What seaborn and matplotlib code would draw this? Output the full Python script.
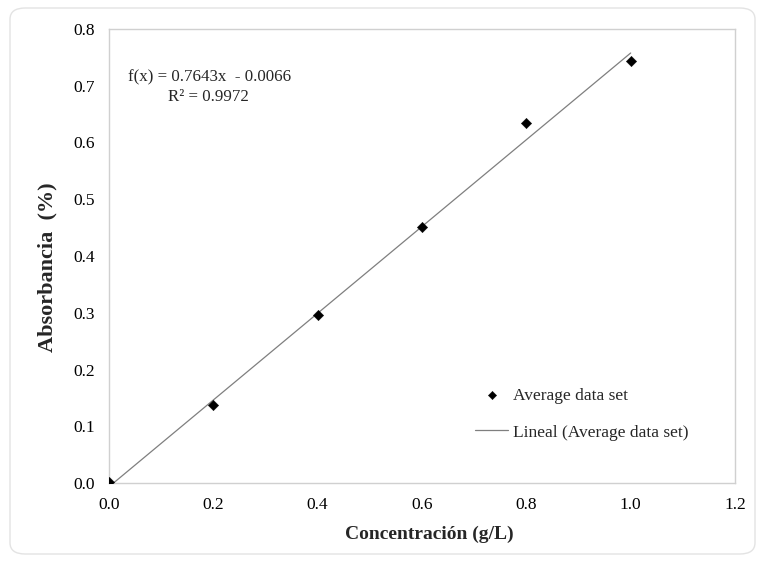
import numpy as np
import pandas as pd
import matplotlib
matplotlib.use("Agg")
import matplotlib.pyplot as plt
import seaborn as sns
from matplotlib.patches import FancyBboxPatch

concentration = [0.0, 0.2, 0.4, 0.6, 0.8, 1.0]
absorbance = [0.001, 0.137, 0.296, 0.451, 0.634, 0.744]
slope = 0.7643
intercept = -0.0066
r2 = 0.9972
x_ticks = [0.0, 0.2, 0.4, 0.6, 0.8, 1.0, 1.2]
y_ticks = [0.0, 0.1, 0.2, 0.3, 0.4, 0.5, 0.6, 0.7, 0.8]

sns.set_theme(style="white")
plt.rcParams['font.family'] = ['Liberation Serif', 'DejaVu Serif']

df = pd.DataFrame({"x": concentration, "y": absorbance})
fit_x = [min(concentration), max(concentration)]
fit = pd.DataFrame({"x": fit_x, "y": [slope * v + intercept for v in fit_x]})

fig = plt.figure(figsize=(7.65, 5.62), dpi=100)
ax = fig.add_axes([109/765, 1 - 483/562, (735-109)/765, (483-29)/562])

border = FancyBboxPatch((10/765, 8/562), (765-20)/765, (562-16)/562,
                        boxstyle="round,pad=0,rounding_size=0.02",
                        transform=fig.transFigure, fill=False,
                        edgecolor="#e3e3e3", linewidth=1.0)
fig.patches.append(border)

sns.lineplot(data=fit, x="x", y="y", ax=ax, color="#7f7f7f", linewidth=0.9,
             label="Lineal (Average data set)", zorder=2)
sns.scatterplot(data=df, x="x", y="y", ax=ax, marker="D", s=28, color="black",
                edgecolor="black", linewidth=0.3, label="Average data set", zorder=3)

ax.set_xlim(0, 1.2)
ax.set_ylim(0, 0.8)
ax.set_xticks(x_ticks)
ax.set_yticks(y_ticks)
ax.set_xticklabels([f"{v:.1f}" for v in x_ticks])
ax.set_yticklabels([f"{v:.1f}" for v in y_ticks])
ax.tick_params(axis="both", direction="out", length=4, width=0.8, color="#d0d0d0",
               labelsize=12.5, labelcolor="black", pad=6)
for s in ax.spines.values():
    s.set_visible(True)
    s.set_color("#d0d0d0")
    s.set_linewidth(1.0)

ax.set_xlabel("Concentración (g/L)", fontsize=14, fontweight="bold")
ax.set_ylabel("Absorbancia  (%)", fontsize=16, fontweight="bold")
ax.xaxis.set_label_coords(0.511, -0.095)
ax.yaxis.set_label_coords(-0.082, 0.476)

ax.text(0.036, 0.715, f"f(x) = {slope}x  - {abs(intercept):.4f}", transform=ax.transData,
        fontsize=12.2, ha="left", va="center")
ax.text(0.113, 0.680, f"R² = {r2}", transform=ax.transData,
        fontsize=12.2, ha="left", va="center")

handles, labels = ax.get_legend_handles_labels()
order = [labels.index("Average data set"), labels.index("Lineal (Average data set)")]
leg = ax.legend([handles[i] for i in order], [labels[i] for i in order],
                loc="upper left", bbox_to_anchor=(0.56, 0.245), frameon=False,
                fontsize=12.5, handlelength=1.9, handletextpad=0.25, labelspacing=1.2,
                markerscale=0.8)

fig.savefig("out.png", dpi=100)
